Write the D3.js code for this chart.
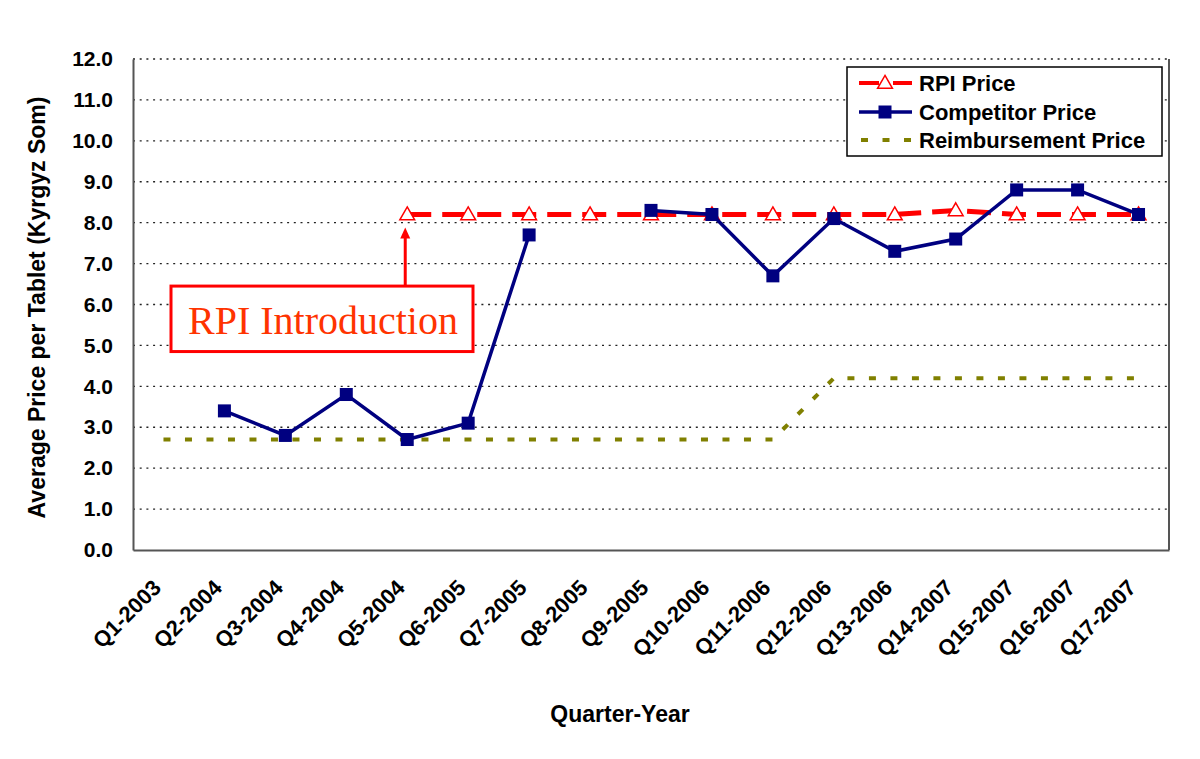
<!DOCTYPE html>
<html>
<head>
<meta charset="utf-8">
<script src="https://cdn.jsdelivr.net/npm/d3@7"></script>
<style>
  html, body { margin: 0; padding: 0; background: #ffffff; }
  svg { display: block; }
</style>
</head>
<body>
<svg id="chart" width="1200" height="759"></svg>
<script>
const categories = ["Q1-2003","Q2-2004","Q3-2004","Q4-2004","Q5-2004","Q6-2005","Q7-2005","Q8-2005","Q9-2005","Q10-2006","Q11-2006","Q12-2006","Q13-2006","Q14-2007","Q15-2007","Q16-2007","Q17-2007"];
const rpiPrice = [null,null,null,null,8.2,8.2,8.2,8.2,8.2,8.2,8.2,8.2,8.2,8.3,8.2,8.2,8.2];
const competitorPrice = [null,3.4,2.8,3.8,2.7,3.1,7.7,null,8.3,8.2,6.7,8.1,7.3,7.6,8.8,8.8,8.2];
const reimbursementPrice = [2.7,2.7,2.7,2.7,2.7,2.7,2.7,2.7,2.7,2.7,2.7,4.2,4.2,4.2,4.2,4.2,4.2];
const yTicks = [0,1,2,3,4,5,6,7,8,9,10,11,12];
const seriesNames = ["RPI Price","Competitor Price","Reimbursement Price"];
const annotationText = "RPI Introduction";
const annotationCategory = "Q5-2004";
const yAxisTitle = "Average Price per Tablet (Kyrgyz Som)";
const xAxisTitle = "Quarter-Year";

const SANS = "Arial, 'Liberation Sans', sans-serif";
const SERIF = "'Times New Roman', 'Liberation Serif', serif";
const RED = "#ff0000", NAVY = "#000080", OLIVE = "#808000";

const svg = d3.select("#chart");
svg.append("rect").attr("width",1200).attr("height",759).attr("fill","#fff");

const plot = {left:133, right:1169, top:59, bottom:550};
const x = d3.scaleBand().domain(categories).range([plot.left, plot.right]).padding(0);
const xc = c => x(c) + x.bandwidth()/2;
const y = d3.scaleLinear().domain([0,12]).range([plot.bottom, plot.top]);

// gridlines
svg.append("g").selectAll("line").data(yTicks.filter(t => t > 0)).join("line")
  .attr("x1", plot.left).attr("x2", plot.right)
  .attr("y1", d => y(d)).attr("y2", d => y(d))
  .attr("stroke", "#222").attr("stroke-width", 1.3).attr("stroke-dasharray", "2,4.7");

// axes frame
const yAxis = d3.axisLeft(y).tickValues(yTicks).tickSize(0).tickPadding(20).tickFormat(d3.format(".1f"));
const gy = svg.append("g").attr("transform", `translate(${plot.left},0)`).call(yAxis);
gy.select(".domain").attr("stroke", "#555").attr("stroke-width", 2);
gy.selectAll("text").attr("font-family", SANS).attr("font-weight", "bold").attr("font-size", 21).attr("fill", "#000");

const xAxis = d3.axisBottom(x).tickSize(0).tickPadding(0);
const gx = svg.append("g").attr("transform", `translate(0,${plot.bottom})`).call(xAxis);
gx.select(".domain").attr("stroke", "#555").attr("stroke-width", 2);
gx.selectAll("text")
  .attr("font-family", SANS).attr("font-weight", "bold").attr("font-size", 22).attr("fill", "#000")
  .attr("text-anchor", "end").attr("dy", null).attr("y", null)
  .attr("transform", "translate(-1,39) rotate(-45)");

svg.append("line").attr("x1", plot.right).attr("x2", plot.right).attr("y1", plot.top).attr("y2", plot.bottom)
  .attr("stroke", "#555").attr("stroke-width", 2);

// titles
svg.append("text").attr("transform", `translate(45,${(plot.top+plot.bottom)/2+3}) rotate(-90)`)
  .attr("text-anchor", "middle").attr("font-family", SANS).attr("font-weight", "bold").attr("font-size", 23)
  .text(yAxisTitle);
svg.append("text").attr("x", 620).attr("y", 722).attr("text-anchor", "middle")
  .attr("font-family", SANS).attr("font-weight", "bold").attr("font-size", 23).text(xAxisTitle);

// reimbursement
const lineOf = arr => d3.line().defined((d,i) => arr[i] != null).x((d,i) => xc(categories[i])).y((d,i) => y(arr[i]));
svg.append("path").datum(reimbursementPrice).attr("d", lineOf(reimbursementPrice))
  .attr("fill", "none").attr("stroke", OLIVE).attr("stroke-width", 4).attr("stroke-dasharray", "7,14.5");

// RPI
svg.append("path").datum(rpiPrice).attr("d", lineOf(rpiPrice))
  .attr("fill", "none").attr("stroke", RED).attr("stroke-width", 5).attr("stroke-dasharray", "24,11");
const tri = d3.symbol().type(d3.symbolTriangle).size(95);
svg.append("g").selectAll("path").data(categories.map((c,i) => ({c, v: rpiPrice[i]})).filter(d => d.v != null)).join("path")
  .attr("d", tri).attr("transform", d => `translate(${xc(d.c)},${y(d.v)+1})`)
  .attr("fill", "#fff").attr("stroke", RED).attr("stroke-width", 1.5);

// competitor
svg.append("path").datum(competitorPrice).attr("d", lineOf(competitorPrice))
  .attr("fill", "none").attr("stroke", NAVY).attr("stroke-width", 3.5);
svg.append("g").selectAll("rect").data(categories.map((c,i) => ({c, v: competitorPrice[i]})).filter(d => d.v != null)).join("rect")
  .attr("x", d => xc(d.c) - 6.5).attr("y", d => y(d.v) - 6.5).attr("width", 13).attr("height", 13)
  .attr("fill", NAVY);

// annotation
const ax = xc(annotationCategory) - 2;
const boxTop = y(6.45), boxBottom = y(4.85);
const boxLeft = 171, boxRight = 473;
svg.append("line").attr("x1", ax).attr("x2", ax).attr("y1", boxTop).attr("y2", y(8.2) + 22)
  .attr("stroke", RED).attr("stroke-width", 3);
svg.append("path").attr("d", `M${ax},${y(8.2)+13} L${ax-5},${y(8.2)+24} L${ax+5},${y(8.2)+24} Z`).attr("fill", RED);
svg.append("rect").attr("x", boxLeft).attr("y", boxTop).attr("width", boxRight-boxLeft).attr("height", boxBottom-boxTop)
  .attr("fill", "#fff").attr("stroke", RED).attr("stroke-width", 3);
svg.append("text").attr("x", (boxLeft+boxRight)/2 + 1).attr("y", 334).attr("text-anchor", "middle")
  .attr("font-family", SERIF).attr("font-size", 40).attr("fill", "#ff3300").text(annotationText);

// legend
const lg = svg.append("g");
lg.append("rect").attr("x", 847).attr("y", 67).attr("width", 315).attr("height", 89)
  .attr("fill", "#fff").attr("stroke", "#000").attr("stroke-width", 1.5);
const rowY = [83, 112, 140];
const sx0 = 859, sx1 = 912, sxm = 885;
// RPI symbol
lg.append("line").attr("x1", sx0).attr("x2", sx1).attr("y1", rowY[0]).attr("y2", rowY[0])
  .attr("stroke", RED).attr("stroke-width", 4).attr("stroke-dasharray", "20,14");
lg.append("path").attr("d", tri).attr("transform", `translate(${sxm},${rowY[0]+1})`)
  .attr("fill", "#fff").attr("stroke", RED).attr("stroke-width", 1.5);
// Competitor symbol
lg.append("line").attr("x1", sx0).attr("x2", sx1).attr("y1", rowY[1]).attr("y2", rowY[1])
  .attr("stroke", NAVY).attr("stroke-width", 3.5);
lg.append("rect").attr("x", sxm-6.5).attr("y", rowY[1]-6.5).attr("width", 13).attr("height", 13).attr("fill", NAVY);
// Reimbursement symbol
lg.append("line").attr("x1", sx0+2).attr("x2", sx1).attr("y1", rowY[2]).attr("y2", rowY[2])
  .attr("stroke", OLIVE).attr("stroke-width", 4).attr("stroke-dasharray", "7,14.5");
lg.selectAll("text.lbl").data(seriesNames).join("text").attr("class","lbl")
  .attr("x", 919).attr("y", (d,i) => rowY[i]).attr("dy", "0.36em")
  .attr("font-family", SANS).attr("font-weight", "bold").attr("font-size", 22).attr("fill", "#000")
  .text(d => d);
</script>
</body>
</html>
